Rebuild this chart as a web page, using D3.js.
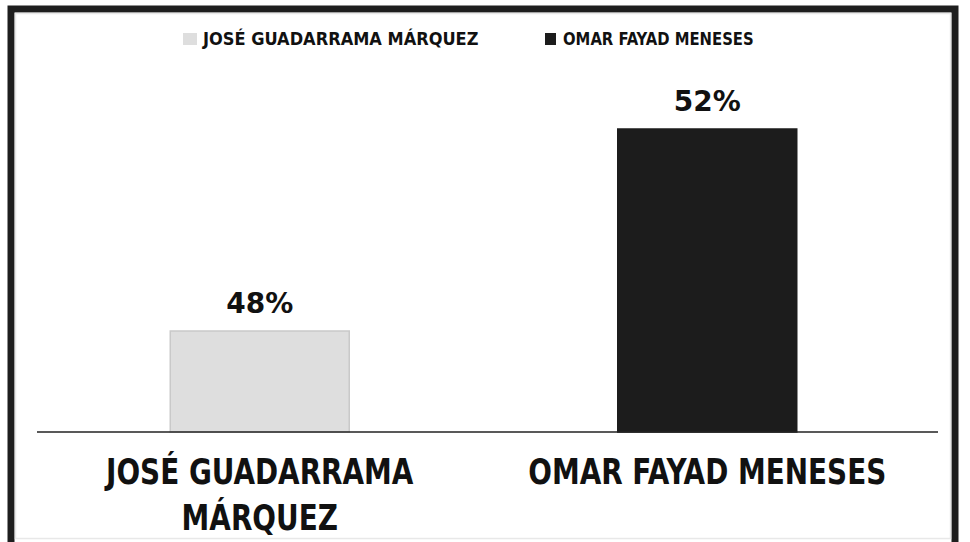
<!DOCTYPE html>
<html>
<head>
<meta charset="utf-8">
<script src="https://cdn.jsdelivr.net/npm/d3@7"></script>
<style>
  body { margin:0; background:#fff; }
  svg { display:block; }
</style>
</head>
<body>
<svg id="chart" width="970" height="542"></svg>
<script>
// data
var candidates = ["JOSÉ GUADARRAMA MÁRQUEZ", "OMAR FAYAD MENESES"];
var axisLines = [["JOSÉ GUADARRAMA", "MÁRQUEZ"], ["OMAR FAYAD MENESES"]];
var shares = [48, 52];
var barColors = ["#dedede", "#1c1c1c"];

var svg = d3.select("#chart");
var font = "'Liberation Sans Narrow', 'DejaVu Sans Condensed', sans-serif";

// squeeze the condensed fallback font to look like the narrow original
function squeeze(sel, ratio) {
  sel.each(function(d, i) {
    var r = typeof ratio === "function" ? ratio(d, i) : ratio;
    var len = this.getComputedTextLength();
    d3.select(this).attr("textLength", len * r).attr("lengthAdjust", "spacingAndGlyphs");
  });
}

// frame
svg.append("rect")
  .attr("x", 11).attr("y", 9)
  .attr("width", 944).attr("height", 600)
  .attr("fill", "#fff")
  .attr("stroke", "#1e1e1e").attr("stroke-width", 7);
svg.append("rect")
  .attr("x", 15.5).attr("y", 13.5)
  .attr("width", 935).attr("height", 525)
  .attr("fill", "none")
  .attr("stroke", "#e8e8e8").attr("stroke-width", 1.5);

var x = d3.scaleBand()
  .domain(candidates)
  .range([36, 931])
  .paddingInner(0.6)
  .paddingOuter(0.3);

var y = d3.scaleLinear()
  .domain([46, 54])
  .range([432, 28]);

// bars
svg.selectAll("rect.bar")
  .data(shares)
  .enter().append("rect")
    .attr("class", "bar")
    .attr("x", function(d, i) { return x(candidates[i]); })
    .attr("y", function(d) { return y(d); })
    .attr("width", x.bandwidth())
    .attr("height", function(d) { return y(46) - y(d); })
    .attr("fill", function(d, i) { return barColors[i]; })
    .attr("stroke", function(d, i) { return i == 0 ? "#c9c9c9" : "#1c1c1c"; })
    .attr("stroke-width", 1.5);

// value labels
svg.selectAll("text.val")
  .data(shares)
  .enter().append("text")
    .attr("class", "val")
    .attr("x", function(d, i) { return x(candidates[i]) + x.bandwidth() / 2; })
    .attr("y", function(d) { return y(d) - 18; })
    .attr("text-anchor", "middle")
    .style("font-family", "'DejaVu Sans', sans-serif")
    .style("font-weight", "bold")
    .style("font-size", "28px")
    .attr("fill", "#111")
    .text(function(d) { return d + "%"; });

// baseline
svg.append("line")
  .attr("x1", 37).attr("x2", 938)
  .attr("y1", y(46)).attr("y2", y(46))
  .attr("stroke", "#222").attr("stroke-width", 1.5);

// category labels
var cat = svg.selectAll("text.cat")
  .data(axisLines)
  .enter().append("text")
    .attr("class", "cat")
    .attr("text-anchor", "middle")
    .style("font-family", font)
    .style("font-weight", "bold")
    .style("font-size", "36px")
    .attr("fill", "#111");
var catSpans = cat.selectAll("tspan")
  .data(function(d, i) { return d.map(function(t) { return { t: t, i: i }; }); })
  .enter().append("tspan")
    .attr("x", function(d) { return x(candidates[d.i]) + x.bandwidth() / 2; })
    .attr("y", function(d, j) { return 484 + j * 46; })
    .text(function(d) { return d.t; });
squeeze(catSpans, 0.86);

// legend
var legendX = [183, 545];
var legend = svg.selectAll("g.legend")
  .data(candidates)
  .enter().append("g")
    .attr("class", "legend")
    .attr("transform", function(d, i) { return "translate(" + legendX[i] + ",33)"; });
legend.append("rect")
  .attr("width", function(d, i) { return i == 0 ? 14 : 11; })
  .attr("height", 12)
  .attr("fill", function(d, i) { return barColors[i]; });
var legText = legend.append("text")
  .attr("x", function(d, i) { return i == 0 ? 20 : 18; })
  .attr("y", 12)
  .style("font-family", font)
  .style("font-weight", "bold")
  .style("font-size", "17px")
  .attr("fill", "#111")
  .text(function(d) { return d; });
squeeze(legText, function(d, i) { return i == 0 ? 1.06 : 0.97; });
</script>
</body>
</html>
